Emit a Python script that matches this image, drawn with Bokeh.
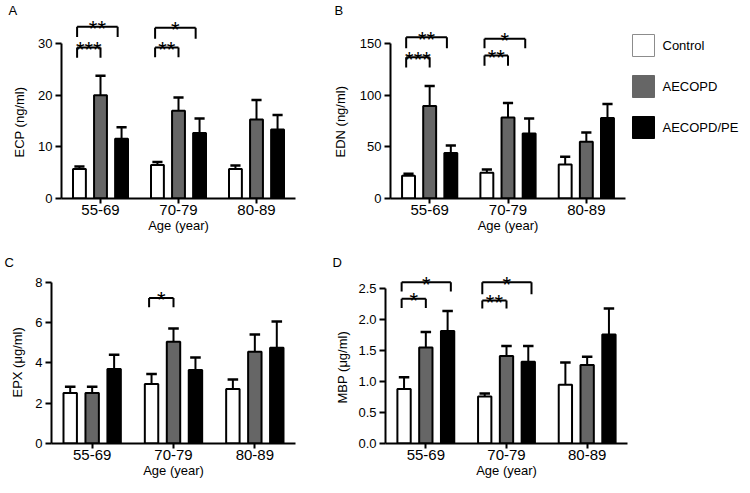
from bokeh.plotting import figure
from bokeh.layouts import row, column
from bokeh.models import (Range1d, FactorRange, FixedTicker, Title,
                          PrintfTickFormatter, ColumnDataSource)
from bokeh.core.properties import value
from bokeh.embed import file_html
from bokeh.resources import INLINE

FONT = "Liberation Sans"

# ---------------- data ----------------
age_groups = ["55-69", "70-79", "80-89"]
groups = ["Control", "AECOPD", "AECOPD/PE"]

# A: ECP (ng/ml)
ecp_control = [5.7, 6.5, 5.7]
ecp_control_err = [0.5, 0.6, 0.7]
ecp_aecopd = [20.0, 17.0, 15.3]
ecp_aecopd_err = [3.8, 2.6, 3.8]
ecp_pe = [11.6, 12.7, 13.4]
ecp_pe_err = [2.2, 2.8, 2.8]
ecp_ticks = [0, 10, 20, 30]

# B: EDN (ng/ml)
edn_control = [22.0, 25.0, 33.0]
edn_control_err = [2.0, 3.0, 7.6]
edn_aecopd = [89.7, 78.6, 55.0]
edn_aecopd_err = [19.5, 14.0, 9.0]
edn_pe = [44.0, 63.0, 78.0]
edn_pe_err = [7.5, 14.6, 13.7]
edn_ticks = [0, 50, 100, 150]

# C: EPX (ug/ml)
epx_control = [2.5, 2.95, 2.7]
epx_control_err = [0.32, 0.5, 0.47]
epx_aecopd = [2.5, 5.05, 4.55]
epx_aecopd_err = [0.32, 0.65, 0.85]
epx_pe = [3.7, 3.65, 4.75]
epx_pe_err = [0.7, 0.62, 1.3]
epx_ticks = [0, 2, 4, 6, 8]

# D: MBP (ug/ml)
mbp_control = [0.88, 0.76, 0.95]
mbp_control_err = [0.19, 0.05, 0.36]
mbp_aecopd = [1.55, 1.415, 1.27]
mbp_aecopd_err = [0.25, 0.16, 0.13]
mbp_pe = [1.82, 1.32, 1.76]
mbp_pe_err = [0.32, 0.255, 0.42]
mbp_ticks = [0, 0.5, 1.0, 1.5, 2.0, 2.5]

# significance: (age group, group compared with Control, label, bracket top, bracket foot)
ecp_sig = [("55-69", "AECOPD", "***", 29.3, 27.3), ("55-69", "AECOPD/PE", "**", 33.3, 31.3),
           ("70-79", "AECOPD", "**", 29.3, 27.4), ("70-79", "AECOPD/PE", "*", 33.1, 31.0)]
edn_sig = [("55-69", "AECOPD", "***", 136.9, 127.1), ("55-69", "AECOPD/PE", "**", 156.4, 145.7),
           ("70-79", "AECOPD", "**", 138.6, 128.8), ("70-79", "AECOPD/PE", "*", 154.9, 145.7)]
epx_sig = [("70-79", "AECOPD", "*", 7.22, 6.76)]
mbp_sig = [("55-69", "AECOPD", "*", 2.34, 2.19), ("55-69", "AECOPD/PE", "*", 2.606, 2.457),
           ("70-79", "AECOPD", "**", 2.31, 2.18), ("70-79", "AECOPD/PE", "*", 2.606, 2.41)]

# ---------------- style ----------------
FILL = {"Control": "white", "AECOPD": "#666666", "AECOPD/PE": "black"}
LEG_LINE = {"Control": "#8c8c8c", "AECOPD": "#666666", "AECOPD/PE": "black"}
OFFSET = {"Control": -0.27, "AECOPD": 0.0, "AECOPD/PE": 0.27}
BAR_W = 0.165
CAP = 0.065

TOP_T, TOP_B = 17, 198      # shared frame top / bottom of the upper row (page px)
BOT_T, BOT_B = 269, 443     # shared frame top / bottom of the lower row (page px)


def panel(letter, ylabel, data, ticks, sig, reach, fig_box, frame_box, ytop_px,
          letter_x, ylabel_bottom, ylabel_standoff, fmt=None):
    fx, fy, fw, fh = fig_box          # figure position / size on the page
    L, T, R, B = frame_box            # frame edges on the page
    yend = ticks[-1] * (B - T) / (B - ytop_px)
    p = figure(width=fw, height=fh, x_range=FactorRange(factors=age_groups, range_padding=0),
               y_range=Range1d(0, yend), output_backend="svg", toolbar_location=None,
               title=None, min_border_left=L - fx, min_border_right=fx + fw - R,
               min_border_top=T - fy, min_border_bottom=fy + fh - B,
               outline_line_color=None,
               background_fill_color="white", border_fill_color="white")
    p.grid.visible = False

    for g in groups:
        means, errs = data[g]
        xs = [i + 0.5 + OFFSET[g] for i in range(len(age_groups))]
        src = ColumnDataSource(dict(
            x=xs, top=means,
            err_top=[m + e for m, e in zip(means, errs)],
            cap_l=[x - CAP for x in xs], cap_r=[x + CAP for x in xs]))
        p.segment(x0="x", y0="top", x1="x", y1="err_top", source=src,
                  line_color="black", line_width=2)
        p.segment(x0="cap_l", y0="err_top", x1="cap_r", y1="err_top", source=src,
                  line_color="black", line_width=2.5)
        p.vbar(x="x", top="top", bottom=0, width=BAR_W, source=src,
               fill_color=FILL[g], line_color="black", line_width=2)

    x0s, y0s, x1s, y1s = [], [], [], []
    tx, ty, tt = [], [], []
    for age, grp, txt, top, foot in sig:
        i = age_groups.index(age)
        xl = i + 0.5 - 0.3
        xr = i + 0.5 + reach[grp]
        x0s += [xl, xl, xr]
        y0s += [foot, top, top]
        x1s += [xl, xr, xr]
        y1s += [top, top, foot]
        tx.append((xl + xr) / 2)
        ty.append(top)
        tt.append(txt)
    p.segment(x0=x0s, y0=y0s, x1=x1s, y1=y1s, line_color="black", line_width=2)
    p.text(x=tx, y=ty, text=tt, text_font=value(FONT), text_font_size="22px",
           text_align="center", text_baseline="alphabetic", y_offset=2,
           text_color="black")

    xa = p.xaxis[0]
    ya = p.yaxis[0]
    for ax in (xa, ya):
        ax.axis_line_width = 2
        ax.axis_line_color = "black"
        ax.major_tick_line_width = 2
        ax.major_tick_line_color = "black"
        ax.major_tick_in = 0
        ax.minor_tick_line_color = None
        ax.major_label_text_font = FONT
        ax.major_label_text_color = "black"
    xa.major_tick_out = 5
    xa.major_label_standoff = 1
    xa.major_label_text_font_size = "15px"
    xa.axis_label = "Age (year)"
    xa.axis_label_text_font = FONT
    xa.axis_label_text_font_style = "normal"
    xa.axis_label_text_font_size = "13px"
    xa.axis_label_text_color = "black"
    xa.axis_label_standoff = 0

    ya.major_tick_out = 6
    ya.major_label_standoff = 3
    ya.major_label_text_font_size = "13px"
    ya.ticker = FixedTicker(ticks=ticks)
    ya.bounds = (ticks[0], ticks[-1])
    if fmt is not None:
        ya.formatter = PrintfTickFormatter(format=fmt)

    # y axis title (left-side title so it can be aligned with the axis bounds)
    p.add_layout(Title(text=ylabel, align="left", offset=B - ylabel_bottom,
                       standoff=ylabel_standoff, text_font=FONT, text_font_size="13px",
                       text_font_style="normal", text_color="black"), "left")
    # panel letter
    p.add_layout(Title(text=letter, align="left", offset=letter_x - L, standoff=0,
                       text_font=FONT, text_font_size="13px", text_font_style="normal",
                       text_color="black"), "above")
    return p


reach_ab = {"AECOPD": 0.0, "AECOPD/PE": 0.22}
reach_d = {"AECOPD": 0.0, "AECOPD/PE": 0.31}

pA = panel("A", "ECP (ng/ml)",
           {"Control": (ecp_control, ecp_control_err), "AECOPD": (ecp_aecopd, ecp_aecopd_err),
            "AECOPD/PE": (ecp_pe, ecp_pe_err)},
           ecp_ticks, ecp_sig, reach_ab, (0, 0, 322, 240), (57, TOP_T, 295, TOP_B), 43.3,
           4, 157, 18)
pB = panel("B", "EDN (ng/ml)",
           {"Control": (edn_control, edn_control_err), "AECOPD": (edn_aecopd, edn_aecopd_err),
            "AECOPD/PE": (edn_pe, edn_pe_err)},
           edn_ticks, edn_sig, reach_ab, (322, 0, 306, 240), (388, TOP_T, 625, TOP_B), 43.3,
           332, 157, 17)
pC = panel("C", "EPX (\u03bcg/ml)",
           {"Control": (epx_control, epx_control_err), "AECOPD": (epx_aecopd, epx_aecopd_err),
            "AECOPD/PE": (epx_pe, epx_pe_err)},
           epx_ticks, epx_sig, reach_ab, (0, 240, 322, 253), (51, BOT_T, 295, BOT_B), 281.7,
           4, 397, 15)
pD = panel("D", "MBP (\u03bcg/ml)",
           {"Control": (mbp_control, mbp_control_err), "AECOPD": (mbp_aecopd, mbp_aecopd_err),
            "AECOPD/PE": (mbp_pe, mbp_pe_err)},
           mbp_ticks, mbp_sig, reach_d, (322, 240, 308, 253), (385, BOT_T, 627, BOT_B), 288.3,
           332, 403, 12, fmt="%.1f")

# legend panel: its frame is aligned with the upper row's frames, ranges in page px
lg = figure(width=122, height=240, x_range=Range1d(628, 750),
            y_range=Range1d(TOP_B, TOP_T),
            output_backend="svg", toolbar_location=None, title=None,
            min_border_left=0, min_border_right=0, min_border_top=TOP_T,
            min_border_bottom=240 - TOP_B,
            x_axis_location=None, y_axis_location=None, outline_line_color=None,
            background_fill_color="white", border_fill_color="white")
lg.grid.visible = False
LEG_Y0, LEG_STEP, SQ = 45, 41, 22
leg_src = ColumnDataSource(dict(
    name=groups,
    yc=[LEG_Y0 + k * LEG_STEP for k in range(len(groups))],
    fill=[FILL[g] for g in groups],
    line=[LEG_LINE[g] for g in groups]))
lg.rect(x=643, y="yc", width=SQ, height=SQ, fill_color="fill", line_color="line",
        line_width=1, source=leg_src)
lg.text(x=662, y="yc", text="name", text_font=value(FONT), text_font_size="13px",
        text_baseline="middle", text_align="left", text_color="black", source=leg_src)

layout = column(row(pA, pB, lg), row(pC, pD))
open("out.html", "w").write(file_html(layout, INLINE))
